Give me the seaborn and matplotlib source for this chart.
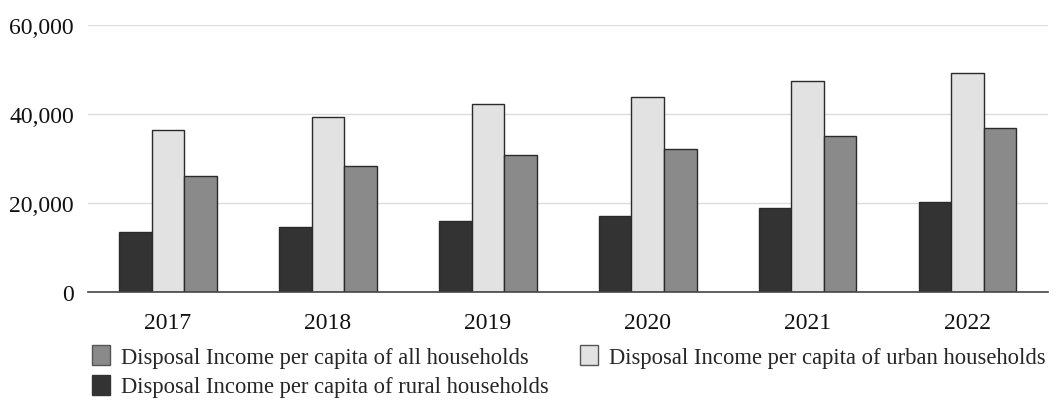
import matplotlib
matplotlib.use("Agg")
import matplotlib.pyplot as plt
import matplotlib.ticker as mticker
from matplotlib.patches import Patch
import seaborn as sns
import pandas as pd

years = ["2017", "2018", "2019", "2020", "2021", "2022"]
rural = [13432, 14617, 16021, 17131, 18931, 20133]
urban = [36396, 39251, 42359, 43834, 47412, 49283]
all_households = [25974, 28228, 30733, 32189, 35128, 36883]

label_all = "Disposal Income per capita of all households"
label_urban = "Disposal Income per capita of urban households"
label_rural = "Disposal Income per capita of rural households"

df = pd.DataFrame({
    "year": years * 3,
    "value": rural + urban + all_households,
    "series": [label_rural] * 6 + [label_urban] * 6 + [label_all] * 6,
})

sns.set_theme(style="white")
plt.rcParams["font.family"] = ["Liberation Serif", "DejaVu Serif"]

colors = {label_rural: "#333333", label_urban: "#e2e2e2", label_all: "#8a8a8a"}

fig = plt.figure(figsize=(10.56, 4.06), dpi=100)
ax = fig.add_axes([0.0833, 0.278, 0.9087, 0.658])

sns.barplot(data=df, x="year", y="value", hue="series",
            hue_order=[label_rural, label_urban, label_all],
            palette=colors, width=0.61, edgecolor="#2a2a2a", linewidth=1.0,
            saturation=1, ax=ax, legend=False)

ax.set_ylim(0, 60000)
ax.set_xlim(-0.5, 5.5)
ax.set_yticks([0, 20000, 40000, 60000])
ax.yaxis.set_major_formatter(mticker.FuncFormatter(lambda v, p: f"{int(v):,}"))
ax.grid(axis="y", color="#dcdcdc", linewidth=1.0)
ax.set_axisbelow(True)
for s in ["top", "right", "left"]:
    ax.spines[s].set_visible(False)
ax.spines["bottom"].set_color("#444444")
ax.spines["bottom"].set_linewidth(1.2)
ax.tick_params(axis="y", length=0, pad=10, labelsize=17, labelcolor="#111111")
ax.tick_params(axis="x", length=0, pad=14, labelsize=17, labelcolor="#111111")
ax.set_xlabel("")
ax.set_ylabel("")

handles = [Patch(facecolor=colors[label_all], edgecolor="#555555", label=label_all),
           Patch(facecolor=colors[label_rural], edgecolor="#333333", label=label_rural),
           Patch(facecolor=colors[label_urban], edgecolor="#555555", label=label_urban)]
fig.legend(handles=handles, ncol=2, loc="upper left", bbox_to_anchor=(0.087, 0.148),
           frameon=False, fontsize=16.3, handlelength=0.8, handleheight=1.0,
           handletextpad=0.5, columnspacing=1.35, labelspacing=0.3,
           borderaxespad=0, borderpad=0)

fig.savefig("out.png", dpi=100)
